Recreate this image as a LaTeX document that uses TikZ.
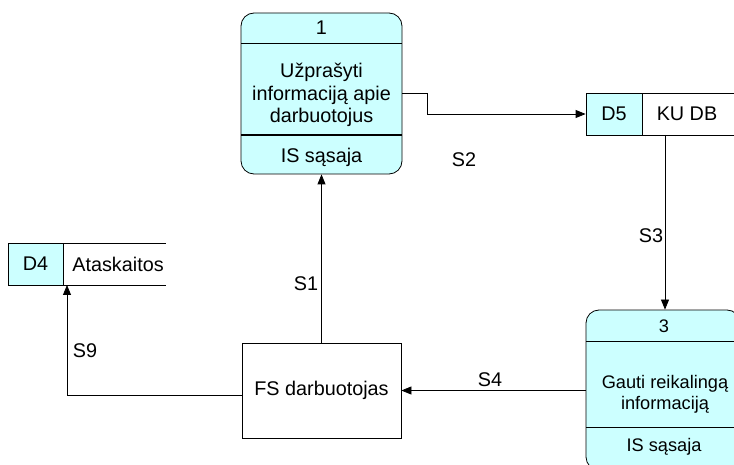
\documentclass[tikz,border=0pt]{standalone}
\usepackage{fontspec}
\setmainfont{Liberation Sans}
\usetikzlibrary{arrows.meta}
\definecolor{proccyan}{RGB}{204,255,255}
\tikzset{
  every node/.style={font=\fontsize{19.8}{22}\selectfont, inner sep=0pt},
  proc/.style={draw=black, fill=proccyan, rounded corners=13pt, line width=0.8pt},
  storeid/.style={draw=black, fill=proccyan, line width=0.8pt},
  flow/.style={draw=black, line width=0.8pt, -{Triangle[length=10pt,width=8pt]}},
  plain/.style={draw=black, line width=0.8pt},
  thick sep/.style={draw=black, line width=2pt},
  lbl/.style={anchor=center},
  small/.style={font=\fontsize{18.2}{21}\selectfont}
}
\begin{document}
\begin{tikzpicture}[x=1pt, y=-1pt]
\useasboundingbox (0,0) rectangle (734,465);
\clip (0,0) rectangle (734,465);

% Process 1
\node[proc, minimum width=161pt, minimum height=161pt] (p1) at (321.5,93.5) {};
\draw[plain] (241,43) -- (402,43);
\draw[thick sep] (241,135) -- (402,135);
\node[lbl] (p1num) at (321.5,28) {1};
\node[lbl, align=center, font=\fontsize{19.8}{22.5}\selectfont] (p1txt) at (321.5,95) {Užprašyti\\informaciją apie\\darbuotojus};
\node[lbl] (p1loc) at (321.5,157) {IS sąsaja};

% Process 3 (runs past the right and bottom edges)
\node[proc, minimum width=154pt, minimum height=160pt] (p3) at (663,390) {};
\draw[plain] (586,341) -- (740,341);
\draw[plain] (586,427) -- (740,427);
\node[lbl, small] (p3num) at (664,326) {3};
\node[lbl, align=center, small] (p3txt) at (665,394) {Gauti reikalingą\\informaciją};
\node[lbl, small] (p3loc) at (664,447) {IS sąsaja};

% External entity
\node[draw=black, line width=0.8pt, minimum width=159pt, minimum height=95pt] (fs) at (321.5,390.5) {FS darbuotojas};

% Data store D5
\node[storeid, minimum width=56pt, minimum height=42pt] (d5) at (614,114) {D5};
\draw[plain] (642,93) -- (740,93);
\draw[plain] (642,135) -- (740,135);
\node[lbl] (d5name) at (687,114) {KU DB};
\coordinate (d5out) at (665,135);

% Data store D4
\node[storeid, minimum width=55pt, minimum height=42pt] (d4) at (35.5,264) {D4};
\draw[plain] (63,243) -- (166,243);
\draw[plain] (63,285) -- (166,285);
\node[lbl] (d4name) at (118,264) {Ataskaitos};
\coordinate (d4in) at (67,285);

% Flows
\coordinate (s2a) at (427,93.5);
\draw[flow] (p1.east) -- (s2a) |- (d5.west);
\draw[flow] (d5out) -- (d5out |- p3.north);
\draw[flow] (p3.west |- fs.east) -- (fs.east);
\draw[flow] (fs.north) -- (p1.south);
\coordinate (s9a) at (242,395);
\draw[flow] (s9a) -| (d4in);

% Flow labels
\node[lbl] (ls1) at (306,284) {S1};
\node[lbl] (ls2) at (464,160) {S2};
\node[lbl] (ls3) at (651,236) {S3};
\node[lbl] (ls4) at (490,380) {S4};
\node[lbl] (ls9) at (85,351) {S9};
\end{tikzpicture}
\end{document}
